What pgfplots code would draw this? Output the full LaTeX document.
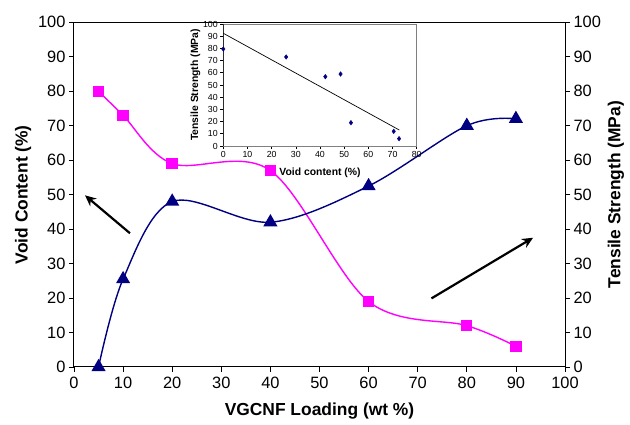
\documentclass[border=0pt]{standalone}
\usepackage{fontspec}
\setmainfont{Liberation Sans}
\usepackage{pgfplots}
\pgfplotsset{compat=1.18}
\usetikzlibrary{arrows.meta}
\definecolor{navyc}{HTML}{000080}
\definecolor{mag}{HTML}{FF00FF}
\begin{document}
\begin{tikzpicture}
\useasboundingbox (-74pt,-58pt) rectangle (556pt,367pt);
% main axis (left)
\begin{axis}[
  at={(0pt,0pt)}, anchor=south west,
  scale only axis, width=491pt, height=344.7pt,
  xmin=0, xmax=100, ymin=0, ymax=100,
  xtick={0,10,...,100}, ytick={0,10,...,100},
  tick align=outside, xtick pos=left, ytick pos=left,
  major tick length=5pt,
  every tick/.style={black, line width=0.8pt},
  axis line style={line width=1pt},
  tick label style={font=\fontsize{16.4}{18}\selectfont},
  xticklabel style={yshift=-2pt},
  /pgf/number format/assume math mode=true,
  label style={font=\fontsize{17.4}{20}\selectfont\bfseries},
  xlabel={VGCNF Loading (wt \%)},
  ylabel={Void Content (\%)},
  xlabel style={yshift=-7pt},
  clip=false,
]
\addplot[mag, line width=1.4pt, smooth, tension=0.55, mark=square*, mark size=5pt, mark options={solid}] coordinates {
  (5,80) (10,73) (20,59) (40,57) (60,19) (80,12) (90,6)};
\addplot[navyc, line width=1.4pt, smooth, tension=0.55, mark=triangle*, mark size=6.8pt, mark options={solid}] coordinates {
  (5,0) (10,25.5) (20,48) (40,42) (60,52.5) (80,70) (90,72)};
\draw[black, line width=2.2pt, -{Stealth[length=11pt,width=10pt]}] (11.4,38.8) -- (2.24,49.8);
\draw[black, line width=2.2pt, -{Stealth[length=11pt,width=10pt]}] (72.8,19.9) -- (93.5,37.5);
\end{axis}
% right axis
\begin{axis}[
  at={(0pt,0pt)}, anchor=south west,
  scale only axis, width=491pt, height=344.7pt,
  xmin=0, xmax=100, ymin=0, ymax=100,
  axis x line=none, axis y line*=right,
  ytick={0,10,...,100},
  tick align=outside,
  major tick length=5pt,
  every tick/.style={black, line width=0.8pt},
  axis line style={line width=1pt},
  tick label style={font=\fontsize{16.4}{18}\selectfont},
  /pgf/number format/assume math mode=true,
  label style={font=\fontsize{17.4}{20}\selectfont\bfseries},
  ylabel={Tensile Strength (MPa)},
]
\end{axis}
% inset
\begin{axis}[
  at={(149.3pt,221pt)}, anchor=south west,
  scale only axis, width=193.4pt, height=122pt,
  xmin=0, xmax=80, ymin=0, ymax=100,
  xtick={0,10,...,80}, ytick={0,10,...,100},
  tick align=outside, xtick pos=left, ytick pos=left,
  major tick length=3pt,
  every tick/.style={black, line width=0.6pt},
  axis line style={gray, line width=0.7pt},
  axis background/.style={fill=white},
  tick label style={font=\fontsize{8.8}{10}\selectfont},
  xticklabel style={yshift=1pt},
  yticklabel style={xshift=1pt},
  /pgf/number format/assume math mode=true,
  label style={font=\fontsize{10.4}{12}\selectfont\bfseries},
  xlabel={Void content (\%)},
  ylabel={Tensile Strength (MPa)},
  xlabel style={yshift=-3pt},
  ylabel style={yshift=-4pt},
]
\addplot[black, line width=0.7pt] coordinates {(0,92.4) (72.8,13.1)};
\addplot[only marks, navyc, mark=diamond*, mark size=2.3pt] coordinates {
  (0,79.5) (26,73) (42.2,56.8) (48.5,59) (52.8,19.1) (70.5,12) (72.7,6)};
\draw[black, line width=0.8pt] (rel axis cs:0,1) -- (rel axis cs:0,0) -- (rel axis cs:1,0);
\end{axis}
\end{tikzpicture}
\end{document}
